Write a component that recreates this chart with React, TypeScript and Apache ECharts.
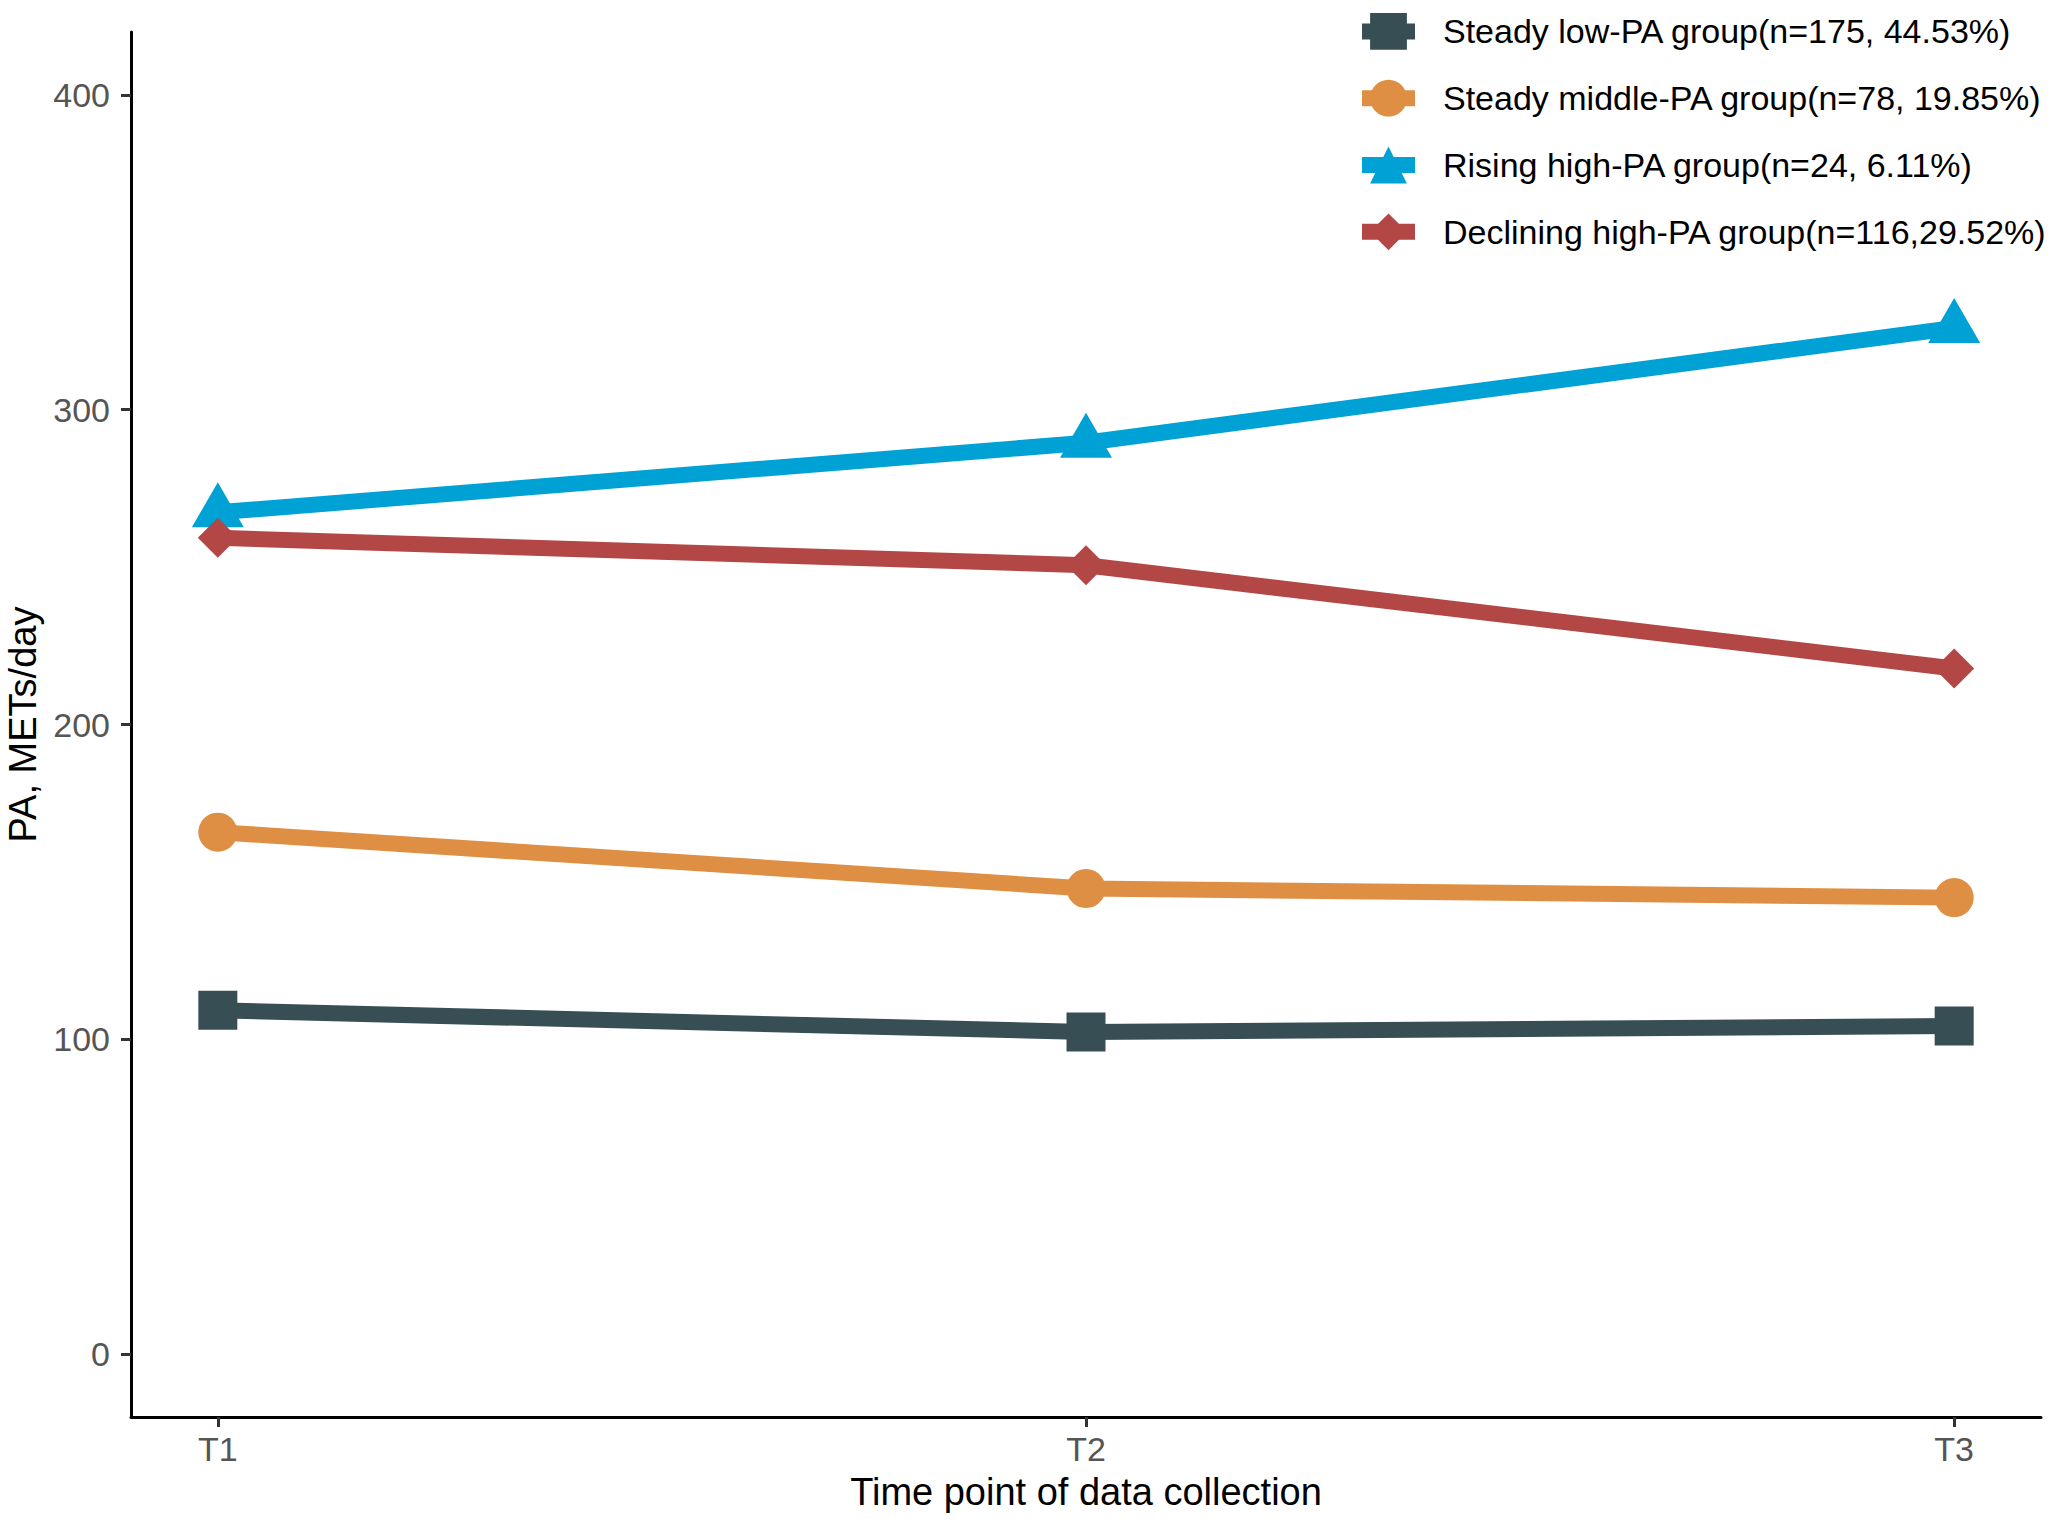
import React, { useEffect, useRef } from "react";
import * as echarts from "echarts";

// Time points of data collection and group labels
const timePoints = ["T1", "T2", "T3"];
const groupNames = [
  "Steady low-PA group(n=175, 44.53%)",
  "Steady middle-PA group(n=78, 19.85%)",
  "Rising high-PA group(n=24, 6.11%)",
  "Declining high-PA group(n=116,29.52%)",
];

// Mean PA (METs/day) per group at T1, T2, T3
const steadyLow = [109.2, 102.3, 104.2];
const steadyMiddle = [165.8, 147.9, 145.0];
const risingHigh = [267.4, 289.5, 326.0];
const decliningHigh = [259.3, 250.6, 217.8];

const yTicks = [0, 100, 200, 300, 400];
const xTicks = [1, 2, 3];

const groupColors = ["#374E55", "#DF8F44", "#00A1D5", "#B24745"];
const FONT = "'Liberation Sans', Arial, Helvetica, sans-serif";

const toPoints = (vals: number[]) => vals.map((v, i) => [i + 1, v]);

export default function App() {
  const ref = useRef<HTMLDivElement>(null);

  useEffect(() => {
    if (!ref.current) return;
    const chart = echarts.init(ref.current, undefined, { renderer: "svg" });

    const seriesValues = [steadyLow, steadyMiddle, risingHigh, decliningHigh];
    const symbols = ["rect", "circle", "triangle", "diamond"];
    const sizes: any[] = [39, 39, [52, 45], 40];
    const offsets: any[] = [[0, 0], [0, 0], [0, -7.5], [0, 0]];

    const series = seriesValues.map((vals, i) => ({
      name: groupNames[i],
      type: "line",
      data: toPoints(vals),
      symbol: symbols[i],
      symbolSize: sizes[i],
      symbolOffset: offsets[i],
      showSymbol: true,
      lineStyle: { color: groupColors[i], width: 16, cap: "butt", join: "round" },
      itemStyle: { color: groupColors[i], borderWidth: 0 },
      emphasis: { disabled: true },
      z: 2,
    }));

    chart.setOption({
      animation: false,
      backgroundColor: "#ffffff",
      textStyle: { fontFamily: FONT },
      grid: {
        left: 131,
        right: 15,
        top: 32,
        bottom: 102,
        containLabel: false,
        outerBoundsMode: "none",
      },
      legend: {
        orient: "vertical",
        left: 1349,
        top: 8,
        itemWidth: 53,
        itemHeight: 46,
        itemGap: 30,
        selectedMode: false,
        data: groupNames,
        lineStyle: { width: 16 },
        textStyle: {
          fontFamily: FONT,
          fontSize: 34,
          color: "#000000",
          padding: [0, 0, 0, 23],
        },
      },
      xAxis: {
        type: "value",
        min: 0.9,
        max: 3.1,
        name: "Time point of data collection",
        nameLocation: "middle",
        nameGap: 56,
        nameTextStyle: { fontFamily: FONT, fontSize: 38, color: "#000000" },
        axisLine: { show: true, onZero: false, lineStyle: { color: "#000000", width: 3 } },
        axisTick: {
          show: true,
          customValues: xTicks,
          length: 10,
          lineStyle: { color: "#333333", width: 3 },
        },
        axisLabel: {
          customValues: xTicks,
          formatter: (v: number) => timePoints[Math.round(v) - 1] ?? "",
          margin: 15,
          fontFamily: FONT,
          fontSize: 34,
          color: "#555555",
        },
        splitLine: { show: false },
      },
      yAxis: {
        type: "value",
        min: -20,
        max: 420,
        name: "PA, METs/day",
        nameLocation: "middle",
        nameGap: 87,
        nameTextStyle: { fontFamily: FONT, fontSize: 38, color: "#000000" },
        axisLine: { show: true, onZero: false, lineStyle: { color: "#000000", width: 3 } },
        axisTick: {
          show: true,
          customValues: yTicks,
          length: 10,
          lineStyle: { color: "#333333", width: 3 },
        },
        axisLabel: {
          customValues: yTicks,
          margin: 21,
          fontFamily: FONT,
          fontSize: 34,
          color: "#555555",
        },
        splitLine: { show: false },
      },
      series,
    });

    return () => chart.dispose();
  }, []);

  return (
    <div
      ref={ref}
      style={{ position: "fixed", left: 0, top: 0, width: 2056, height: 1519, background: "#fff" }}
    />
  );
}
